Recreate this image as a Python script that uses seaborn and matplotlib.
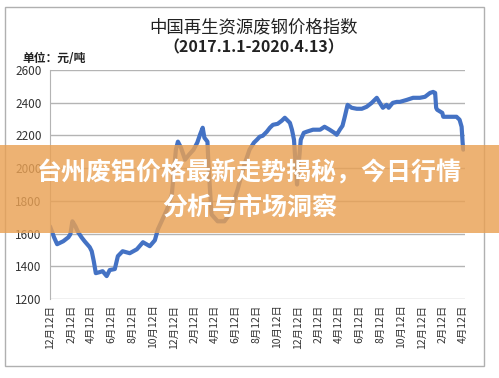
import pandas as pd
import matplotlib
matplotlib.use("Agg")
import matplotlib.pyplot as plt
from matplotlib.patches import Rectangle
import seaborn as sns


# data
dates = [
    "2016-12-12", "2016-12-24", "2017-01-02", "2017-01-20", "2017-02-04", "2017-02-10",
    "2017-02-16", "2017-02-25", "2017-03-05", "2017-03-15", "2017-03-24", "2017-04-08",
    "2017-04-14", "2017-04-20", "2017-04-26", "2017-05-07", "2017-05-16", "2017-05-28",
    "2017-06-06", "2017-06-21", "2017-06-30", "2017-07-14", "2017-08-04", "2017-08-25",
    "2017-09-12", "2017-10-02", "2017-10-17", "2017-10-26", "2017-11-22", "2017-12-06",
    "2017-12-18", "2017-12-24", "2018-01-02", "2018-01-14", "2018-01-26", "2018-02-08",
    "2018-02-19", "2018-02-27", "2018-03-07", "2018-03-12", "2018-03-21", "2018-03-24",
    "2018-04-02", "2018-04-20", "2018-05-10", "2018-05-25", "2018-06-18", "2018-07-08",
    "2018-07-23", "2018-08-05", "2018-08-14", "2018-08-22", "2018-08-31", "2018-09-12",
    "2018-09-21", "2018-09-30", "2018-10-14", "2018-10-26", "2018-11-04", "2018-11-19",
    "2018-11-25", "2018-12-01", "2018-12-10", "2018-12-16", "2018-12-21", "2018-12-30",
    "2019-01-08", "2019-01-26", "2019-02-16", "2019-03-01", "2019-03-16", "2019-03-30",
    "2019-04-06", "2019-04-15", "2019-04-23", "2019-04-29", "2019-05-08", "2019-05-20",
    "2019-06-04", "2019-06-19", "2019-07-03", "2019-07-18", "2019-08-02", "2019-08-11",
    "2019-08-20", "2019-08-31", "2019-09-06", "2019-09-18", "2019-09-30", "2019-10-09",
    "2019-10-29", "2019-11-17", "2019-12-07", "2019-12-22", "2020-01-06", "2020-01-15",
    "2020-01-21", "2020-01-24", "2020-01-27", "2020-02-11", "2020-02-14", "2020-02-28",
    "2020-03-24", "2020-04-02", "2020-04-08", "2020-04-11", "2020-04-13",
]
prices = [
    1644, 1577, 1535, 1553, 1577, 1596,
    1675, 1644, 1608, 1577, 1553, 1517,
    1492, 1431, 1358, 1364, 1370, 1340,
    1377, 1383, 1462, 1492, 1480, 1504,
    1547, 1523, 1559, 1626, 1748, 1839,
    2113, 2162, 2125, 2052, 2083, 2113,
    2156, 2204, 2247, 2186, 2162, 2022,
    1717, 1675, 1675, 1717, 1870, 2022,
    2113, 2156, 2174, 2192, 2198, 2223,
    2247, 2265, 2271, 2290, 2308, 2277,
    2235, 2174, 1900, 2052, 2174, 2216,
    2223, 2235, 2235, 2253, 2235, 2216,
    2204, 2235, 2259, 2308, 2387, 2369,
    2363, 2363, 2375, 2399, 2430, 2399,
    2369, 2387, 2369, 2399, 2405, 2405,
    2417, 2430, 2430, 2436, 2460, 2466,
    2460, 2369, 2357, 2338, 2314, 2314,
    2314, 2296, 2253, 2156, 2113,
]
# ticks every two months on the 12th, Dec 2016 .. Apr 2020
tick_dates = pd.date_range("2016-12-01", "2020-04-01", freq="2MS") + pd.Timedelta(days=11)
y_ticks = [1200, 1400, 1600, 1800, 2000, 2200, 2400, 2600]

title = "中国再生资源废钢价格指数"
subtitle = "（2017.1.1-2020.4.13）"
unit_label = "单位：元/吨"
banner_lines = ["台州废铝价格最新走势揭秘，今日行情", "分析与市场洞察"]

sns.set_style("white")
plt.rcParams["font.family"] = ["Noto Sans CJK SC", "DejaVu Sans"]

df = pd.DataFrame({"date": pd.to_datetime(dates), "price": prices})

fig = plt.figure(figsize=(4.99, 3.78), dpi=100)
ax = fig.add_axes([50 / 499, 1 - 299 / 378, 415 / 499, 229 / 378])

sns.lineplot(data=df, x="date", y="price", ax=ax, color="#4472C4", linewidth=3)

ax.set_xlim(pd.Timestamp("2016-12-12"), pd.Timestamp("2020-04-18"))
ax.set_ylim(1200, 2600)
ax.set_yticks(y_ticks)
ax.set_xticks(tick_dates)
ax.set_xticklabels([f"{d.month}月12日" for d in tick_dates], rotation=90, fontsize=7.5, color="#333333")
ax.tick_params(axis="y", labelsize=8.5, colors="#333333", length=0, pad=6)
ax.tick_params(axis="x", length=0, pad=4)
ax.yaxis.grid(True, color="#b4b4b4", linewidth=1)
ax.set_xlabel("")
ax.set_ylabel("")
for side in ["top", "right", "bottom"]:
    ax.spines[side].set_visible(False)
ax.spines["left"].set_color("#b4b4b4")

# outer frame like the Excel chart area
fig.patches.append(Rectangle((5 / 499, 1 - 366 / 378), 479 / 499, 359 / 378,
                             transform=fig.transFigure, fill=False,
                             edgecolor="#b0b0b0", linewidth=1, zorder=1))

fig.text(254 / 499, 1 - 27 / 378, title, ha="center", va="center", fontsize=12.5, color="#222222")
fig.text(254 / 499, 1 - 47 / 378, subtitle, ha="center", va="center", fontsize=11.5,
         fontweight="bold", color="#222222")
fig.text(22 / 499, 1 - 58 / 378, unit_label, ha="left", va="center", fontsize=8.5,
         fontweight="bold", color="#222222")

# orange banner on top
fig.patches.append(Rectangle((0, 1 - 233 / 378), 1, 88 / 378, transform=fig.transFigure,
                             facecolor="#E9A154", alpha=0.82, edgecolor="none", zorder=5))
fig.text(0.5, 1 - 173 / 378, banner_lines[0], ha="center", va="center", fontsize=18,
         fontweight="bold", color="white", zorder=6)
fig.text(0.5, 1 - 208 / 378, banner_lines[1], ha="center", va="center", fontsize=18,
         fontweight="bold", color="white", zorder=6)

fig.savefig("out.png", dpi=100)
